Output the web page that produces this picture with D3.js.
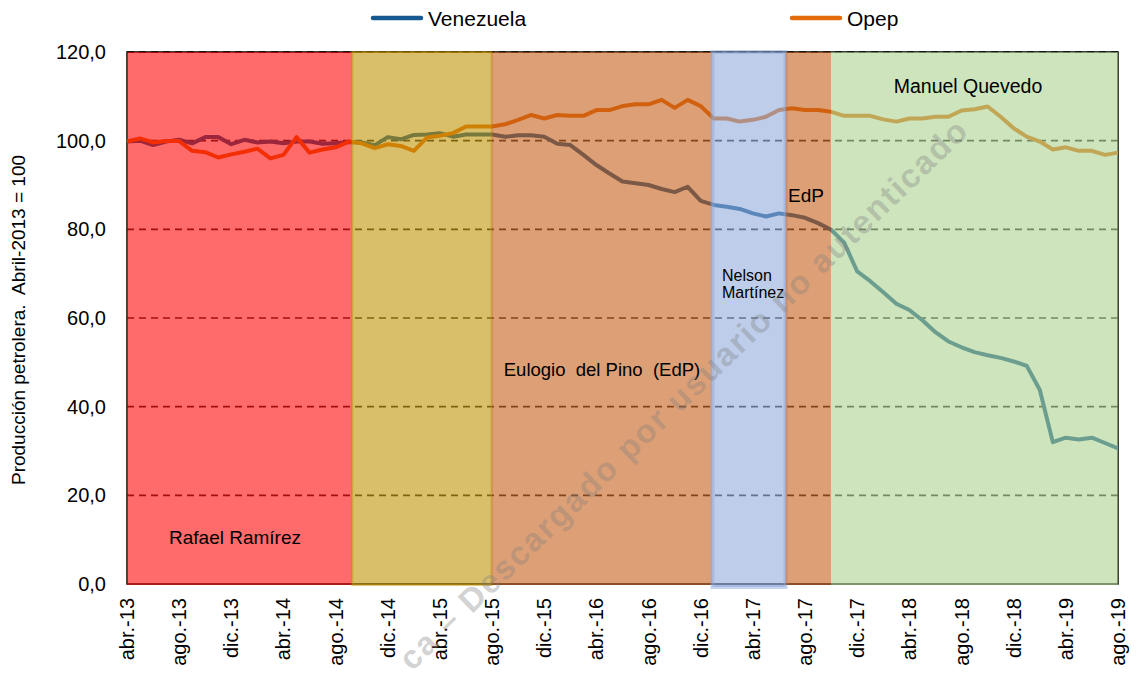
<!DOCTYPE html>
<html>
<head>
<meta charset="utf-8">
<script src="https://cdn.jsdelivr.net/npm/d3@7"></script>
<style>
  body { margin: 0; background: #fff; }
  svg text { font-family: "Liberation Sans", Arial, sans-serif; fill: #000; }
</style>
</head>
<body>
<div id="chart"></div>
<script>
// tick labels every 4 months, abr-13 .. ago-19 (77 months)
var tickLabels = ["abr.-13","ago.-13","dic.-13","abr.-14","ago.-14","dic.-14","abr.-15","ago.-15","dic.-15","abr.-16",
                  "ago.-16","dic.-16","abr.-17","ago.-17","dic.-17","abr.-18","ago.-18","dic.-18","abr.-19","ago.-19"];

var venezuela = [99.8,100.0,99.0,99.8,100.2,99.4,100.8,100.8,99.2,100.2,
                 99.6,99.8,99.4,99.8,99.8,99.3,99.4,99.7,99.6,99.0,
                 100.8,100.3,101.3,101.4,101.7,100.9,101.4,101.4,101.4,100.9,
                 101.2,101.2,100.9,99.3,99.0,96.8,94.5,92.6,90.8,90.4,
                 90.0,89.1,88.4,89.6,86.4,85.5,85.1,84.6,83.6,82.9,
                 83.6,83.2,82.6,81.4,79.9,77.0,70.5,68.3,65.8,63.2,
                 61.8,59.5,56.8,54.7,53.4,52.3,51.6,51.0,50.2,49.2,
                 43.8,32.0,33.0,32.6,33.0,31.8,30.6];

var opep = [99.8,100.5,99.6,99.9,99.9,97.7,97.4,96.2,96.9,97.5,
            98.2,96.0,96.8,100.8,97.3,98.0,98.5,99.8,99.4,98.3,
            99.2,98.8,97.7,100.7,101.1,101.7,103.2,103.2,103.2,103.7,
            104.7,105.8,105.0,105.8,105.6,105.6,106.9,106.9,107.8,108.2,
            108.2,109.2,107.4,109.2,107.8,105.0,105.0,104.3,104.7,105.4,
            106.9,107.3,106.9,106.9,106.5,105.6,105.6,105.6,104.8,104.3,
            105.0,105.0,105.4,105.4,106.8,107.1,107.7,105.4,102.8,100.9,
            99.8,98.0,98.5,97.7,97.7,96.8,97.3];

// management periods (start / end in month index)
var periodStart = [0, 17.28, 27.96, 44.9, 50.5, 54];
var periodEnd   = [17.28, 27.96, 44.9, 50.5, 54, 76];
var periodColor = ["#ff0000", "#bf9000", "#c55a11", "#8ea9db", "#c55a11", "#a9d08e"];

var yTicks = [0, 20, 40, 60, 80, 100, 120];

var W = 1139, H = 673;
var plotLeft = 127, plotRight = 1118, plotTop = 52, plotBottom = 584;

var svg = d3.select("#chart").append("svg")
    .attr("width", W)
    .attr("height", H);

var x = d3.scaleLinear().domain([0, 76]).range([plotLeft, plotRight]);
var y = d3.scaleLinear().domain([0, 120]).range([plotBottom, plotTop]);

// gridlines
svg.append("g")
    .selectAll("line")
    .data(yTicks.filter(d => d > 0))
    .enter().append("line")
    .attr("x1", plotLeft).attr("x2", plotRight)
    .attr("y1", d => y(d)).attr("y2", d => y(d))
    .attr("stroke", "#262626")
    .attr("stroke-width", 1.6)
    .attr("stroke-dasharray", "7,5");

// plot border
svg.append("rect")
    .attr("x", plotLeft).attr("y", plotTop)
    .attr("width", plotRight - plotLeft).attr("height", plotBottom - plotTop)
    .attr("fill", "none")
    .attr("stroke", "#000")
    .attr("stroke-width", 1.5);

var line = d3.line()
    .x((d, i) => x(i))
    .y(d => y(d));

svg.append("path").datum(venezuela)
    .attr("fill", "none").attr("stroke", "#17598f")
    .attr("stroke-width", 4).attr("stroke-linejoin", "round")
    .attr("d", line);

svg.append("path").datum(opep)
    .attr("fill", "none").attr("stroke", "#e36c0a")
    .attr("stroke-width", 4).attr("stroke-linejoin", "round")
    .attr("d", line);

// translucent period overlays
svg.append("g")
    .selectAll("rect")
    .data(periodStart)
    .enter().append("rect")
    .attr("x", d => x(d))
    .attr("y", plotTop)
    .attr("width", (d, i) => x(periodEnd[i]) - x(d))
    .attr("height", (d, i) => i == 3 ? plotBottom - plotTop + 3 : plotBottom - plotTop + 1)
    .attr("fill", (d, i) => periodColor[i])
    .attr("fill-opacity", 0.58)
    .attr("stroke", (d, i) => (i == 1 || i == 3) ? periodColor[i] : "none")
    .attr("stroke-opacity", 0.5)
    .attr("stroke-width", (d, i) => i == 3 ? 4 : 2);

// y axis tick labels
svg.append("g")
    .selectAll("text")
    .data(yTicks)
    .enter().append("text")
    .attr("x", 106)
    .attr("y", d => y(d))
    .attr("dy", "0.35em")
    .attr("text-anchor", "end")
    .style("font-size", "20px")
    .text(d => d3.format(".1f")(d).replace(".", ","));

// x axis tick labels (rotated)
svg.append("g")
    .selectAll("text")
    .data(tickLabels)
    .enter().append("text")
    .attr("transform", (d, i) => "translate(" + (x(i * 4) + 7) + "," + (plotBottom + 14) + ") rotate(-90)")
    .attr("text-anchor", "end")
    .style("font-size", "20px")
    .text(d => d);

// y axis title
svg.append("text")
    .attr("transform", "translate(25,320) rotate(-90)")
    .attr("text-anchor", "middle")
    .style("font-size", "19px")
    .attr("xml:space", "preserve")
    .text("Producción petrolera.  Abril-2013 = 100");

// legend
var legend = [{name: "Venezuela", color: "#17598f", x: 373}, {name: "Opep", color: "#e36c0a", x: 792}];
var lg = svg.selectAll(".legend").data(legend).enter().append("g");
lg.append("line")
    .attr("x1", d => d.x).attr("x2", d => d.x + 48)
    .attr("y1", 18).attr("y2", 18)
    .attr("stroke", d => d.color)
    .attr("stroke-width", 4.5)
    .attr("stroke-linecap", "round");
lg.append("text")
    .attr("x", d => d.x + 55)
    .attr("y", 18)
    .attr("dy", "0.36em")
    .style("font-size", "21px")
    .text(d => d.name);

// period annotations
var notes = [
    {t: "Rafael Ramírez", x: 235, y: 537, s: 19},
    {t: "Eulogio  del Pino  (EdP)", x: 602, y: 370, s: 18.5},
    {t: "EdP", x: 806, y: 195, s: 19},
    {t: "Manuel Quevedo", x: 968, y: 86, s: 19.5},
    {t: "Nelson", x: 722, y: 275, s: 16, a: "start"},
    {t: "Martínez", x: 722, y: 292, s: 16, a: "start"}
];
svg.append("g").selectAll("text")
    .data(notes).enter().append("text")
    .attr("x", d => d.x).attr("y", d => d.y)
    .attr("dy", "0.35em")
    .attr("text-anchor", d => d.a || "middle")
    .attr("xml:space", "preserve")
    .style("font-size", d => d.s + "px")
    .text(d => d.t);

// watermark
svg.append("text")
    .attr("transform", "translate(412,672) rotate(-44)")
    .attr("textLength", 775)
    .attr("lengthAdjust", "spacing")
    .style("font-size", "33px")
    .style("font-weight", "bold")
    .style("fill", "#808080")
    .style("fill-opacity", 0.35)
    .text("ca – Descargado por usuario no autenticado");
</script>
</body>
</html>
